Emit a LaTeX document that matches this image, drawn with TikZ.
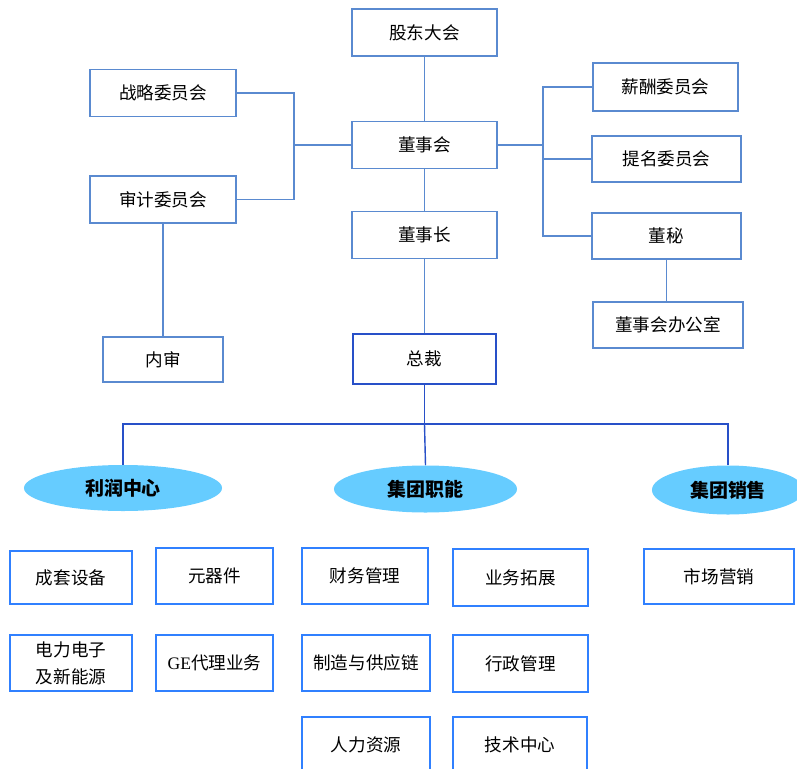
\documentclass[tikz,border=0pt]{standalone}
\usepackage{fontspec}
\setmainfont{Liberation Serif}
\newfontfamily\cjk{Noto Sans CJK SC}
\usetikzlibrary{shapes.geometric}
\definecolor{topblue}{HTML}{5A8AD0}
\definecolor{headblue}{HTML}{2850C8}
\definecolor{unitblue}{HTML}{3080FF}
\definecolor{ovalfill}{HTML}{66CCFF}
\tikzstyle{topbox} = [rectangle, draw=topblue, line width=1pt, inner sep=0pt, text centered, font=\cjk\fontsize{12.5}{15}\selectfont]
\tikzstyle{unitbox} = [rectangle, draw=unitblue, line width=1.4pt, inner sep=0pt, align=center, font=\cjk\fontsize{12.5}{19}\selectfont]
\tikzstyle{centre} = [ellipse, fill=ovalfill, draw=none, inner sep=0pt, font=\cjk\bfseries\fontsize{13.5}{16}\selectfont]
\tikzstyle{line} = [draw=topblue, line width=1pt]
\tikzstyle{busline} = [draw=headblue, line width=1pt]

\begin{document}
\begin{tikzpicture}[x=0.025cm, y=-0.025cm]

    \clip[use as bounding box] (0,0) rectangle (797,769);
    \fill[white] (0,0) rectangle (797,769);

    % board level
    \node (gudong) [topbox, minimum width=3.625cm, minimum height=1.175cm] at (424.5,32.5) {股东大会};
    \node (dongshihui) [topbox, minimum width=3.625cm, minimum height=1.175cm] at (424.5,145) {董事会};
    \node (dongshizhang) [topbox, minimum width=3.625cm, minimum height=1.175cm] at (424.5,235) {董事长};
    \node (zongcai) [topbox, draw=headblue, minimum width=3.575cm, minimum height=1.25cm] at (424.5,359) {总裁};

    \node (zhanlve) [topbox, minimum width=3.65cm, minimum height=1.175cm] at (163,93) {战略委员会};
    \node (shenji) [topbox, minimum width=3.65cm, minimum height=1.175cm] at (163,199.5) {审计委员会};
    \node (neishen) [topbox, minimum width=3cm, minimum height=1.125cm] at (163,359.5) {内审};

    \node (xinchou) [topbox, minimum width=3.625cm, minimum height=1.2cm] at (665.5,87) {薪酬委员会};
    \node (timing) [topbox, minimum width=3.725cm, minimum height=1.15cm] at (666.5,159) {提名委员会};
    \node (dongmi) [topbox, minimum width=3.725cm, minimum height=1.15cm] at (666.5,236) {董秘};
    \node (bangongshi) [topbox, minimum width=3.75cm, minimum height=1.15cm] at (668,325) {董事会办公室};

    \coordinate (lbus) at (294,145);
    \coordinate (rbus) at (543,145);
    \coordinate (zbus) at (424.5,424);

    \draw[line] (gudong) -- (dongshihui);
    \draw[line] (dongshihui) -- (dongshizhang);
    \draw[line] (dongshizhang) -- (zongcai);
    \draw[line] (zhanlve.east) -| (lbus) |- (shenji.east);
    \draw[line] (lbus) -- (dongshihui.west);
    \draw[line] (shenji) -- (neishen);
    \draw[line] (dongshihui.east) -- (rbus) |- (dongmi.west);
    \draw[line] (xinchou.west) -| (rbus);
    \draw[line] (timing.west) -| (rbus);
    \draw[line] (dongmi.south) -- (dongmi.south |- bangongshi.north);

    % centres
    \node (lirun) [centre, minimum width=4.95cm, minimum height=1.15cm] at (123,488) {利润中心};
    \node (zhineng) [centre, minimum width=4.575cm, minimum height=1.175cm] at (425.5,489) {集团职能};
    \node (xiaoshou) [centre, minimum width=3.8cm, minimum height=1.225cm] at (728,490) {集团销售};

    \draw[busline] (zongcai) -- (zbus);
    \draw[busline] (lirun.north) |- (zbus) -| (xiaoshou.north);
    \draw[busline] (zbus) -- (zhineng.north);

    % units
    \node (chengtao) [unitbox, minimum width=3.05cm, minimum height=1.325cm] at (71,577.5) {成套设备};
    \node (yuanqijian) [unitbox, minimum width=2.925cm, minimum height=1.4cm] at (214.5,576) {元器件};
    \node (dianli) [unitbox, minimum width=3.05cm, minimum height=1.4cm] at (71,663) {电力电子\\及新能源};
    \node (ge) [unitbox, minimum width=2.925cm, minimum height=1.4cm] at (214.5,663) {{\rmfamily GE}代理业务};

    \node (caiwu) [unitbox, minimum width=3.15cm, minimum height=1.4cm] at (365,576) {财务管理};
    \node (yewu) [unitbox, minimum width=3.375cm, minimum height=1.425cm] at (520.5,577.5) {业务拓展};
    \node (zhizao) [unitbox, minimum width=3.2cm, minimum height=1.4cm] at (366,663) {制造与供应链};
    \node (xingzheng) [unitbox, minimum width=3.375cm, minimum height=1.425cm] at (520.5,663.5) {行政管理};
    \node (renli) [unitbox, minimum width=3.2cm, minimum height=1.4cm] at (366,745) {人力资源};
    \node (jishu) [unitbox, minimum width=3.35cm, minimum height=1.4cm] at (520,745) {技术中心};

    \node (shichang) [unitbox, minimum width=3.75cm, minimum height=1.375cm] at (719,576.5) {市场营销};

\end{tikzpicture}
\end{document}
